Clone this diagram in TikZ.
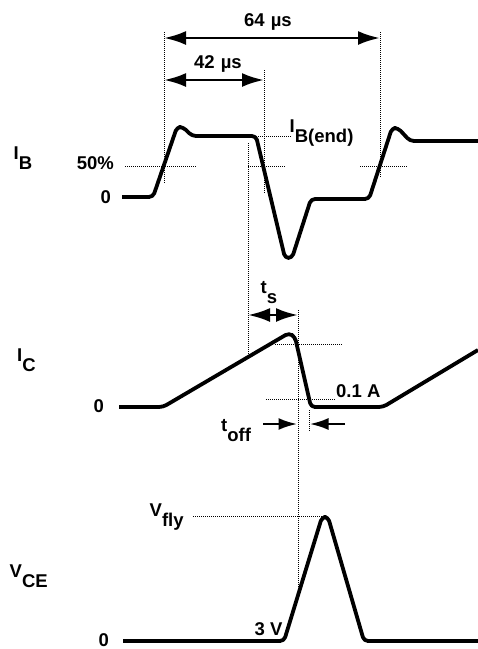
\documentclass[tikz,border=0pt]{standalone}
\usepackage{fontspec}
\setmainfont{Liberation Sans}
\usetikzlibrary{arrows.meta}
\usetikzlibrary{positioning}
\tikzset{
  signal/.style={line width=3.8pt,line join=round,rounded corners=4pt},
  repere/.style={line width=0.8pt,dash pattern=on 1pt off 1pt,black},
  cote/.style={line width=2.8pt,{Latex[length=22pt,width=14pt]}-{Latex[length=22pt,width=14pt]}},
  fleche/.style={line width=2.8pt,-{Latex[length=19pt,width=12pt]}},
  lbl/.style={font=\fontsize{18.5}{20}\selectfont\bfseries,inner sep=0pt}
}
\newcommand{\bas}[1]{\raisebox{-10pt}{#1}}

\begin{document}
\begin{tikzpicture}[x=1pt,y=-1pt]
\useasboundingbox (0,0) rectangle (478,649);
% reperes pointilles
\foreach \xa/\ya/\xb/\yb in {164/32/164/184, 380/32/380/177, 264/70/264/193,
    125/166/197/166, 248/166/286/166, 360/166/407/166, 256/136.5/291/136.5,
    248/143/248/355, 298/310/298/595, 275/344/343/344, 266/399/335/399,
    309.5/410/309.5/432, 193/516/325/516}
  \draw[repere] (\xa,\ya) -- (\xb,\yb);
% courant de base
\draw[signal] (122,197) -- (153,197) -- (177,127) -- (183,127) -- (192,136)
  -- (256,136) -- (285,258) -- (292,258) -- (311,199) -- (369,199)
  -- (392,128) -- (398,128) -- (410,141) -- (478,141);
% courant collecteur
\draw[signal] (119,407) -- (163,407) -- (289,333) -- (295,337) -- (311,407)
  -- (383,407) -- (478,350);
% tension collecteur-emetteur
\draw[signal] (123,641) -- (284,641) -- (322,517) -- (328,517) -- (364,641)
  -- (478,641);
% cotes
\coordinate (t1) at (164,38);
\coordinate (t3) at (380,38);
\coordinate (t1b) at (164,80);
\coordinate (t2) at (264,80);
\coordinate (ts1) at (248,315);
\coordinate (ts2) at (298,315);
\coordinate (toffa) at (263,424);
\coordinate (toffb) at (297.5,424);
\coordinate (toffc) at (345,424);
\coordinate (toffd) at (309.5,424);
\draw[cote] (t1) -- (t3);
\draw[cote] (t1b) -- (t2);
\draw[cote] (ts1) -- (ts2);
\draw[fleche] (toffa) -- (toffb);
\draw[fleche] (toffc) -- (toffd);
% textes
\node[lbl,anchor=base west] (periode) at (244,26) {64\hspace{6pt}µs};
\node[lbl,anchor=base west] (aller) at (194,68.3) {42\hspace{6pt}µs};
\node[lbl,anchor=base west] (ib) at (13.5,159) {I\bas{B}};
\node[lbl,anchor=base east] (moitie) at (114,169.5) {50\%};
\node[lbl,anchor=base east] (zeroib) at (111,203) {0};
\node[lbl,anchor=base west] (ibend) at (289.5,132) {I\bas{B(end)}};
\node[lbl,anchor=base west] (ic) at (17,361.7) {I\bas{C}};
\node[lbl,anchor=base east] (zeroic) at (104,412.7) {0};
\node[lbl,anchor=base west] (ts) at (260.5,293) {t\bas{s}};
\node[lbl,anchor=base west] (seuil) at (336,397.3) {0.1 A};
\node[lbl,anchor=base west] (toff) at (221,431) {t\bas{off}};
\node[lbl,anchor=base west] (vfly) at (149.5,516) {V\bas{fly}};
\node[lbl,anchor=base west] (vce) at (9.5,577) {V\bas{CE}};
\node[lbl,anchor=base east] (zerovce) at (109,646.5) {0};
\node[lbl,anchor=base west] (trois) at (254.5,635) {3 V};
\end{tikzpicture}
\end{document}
